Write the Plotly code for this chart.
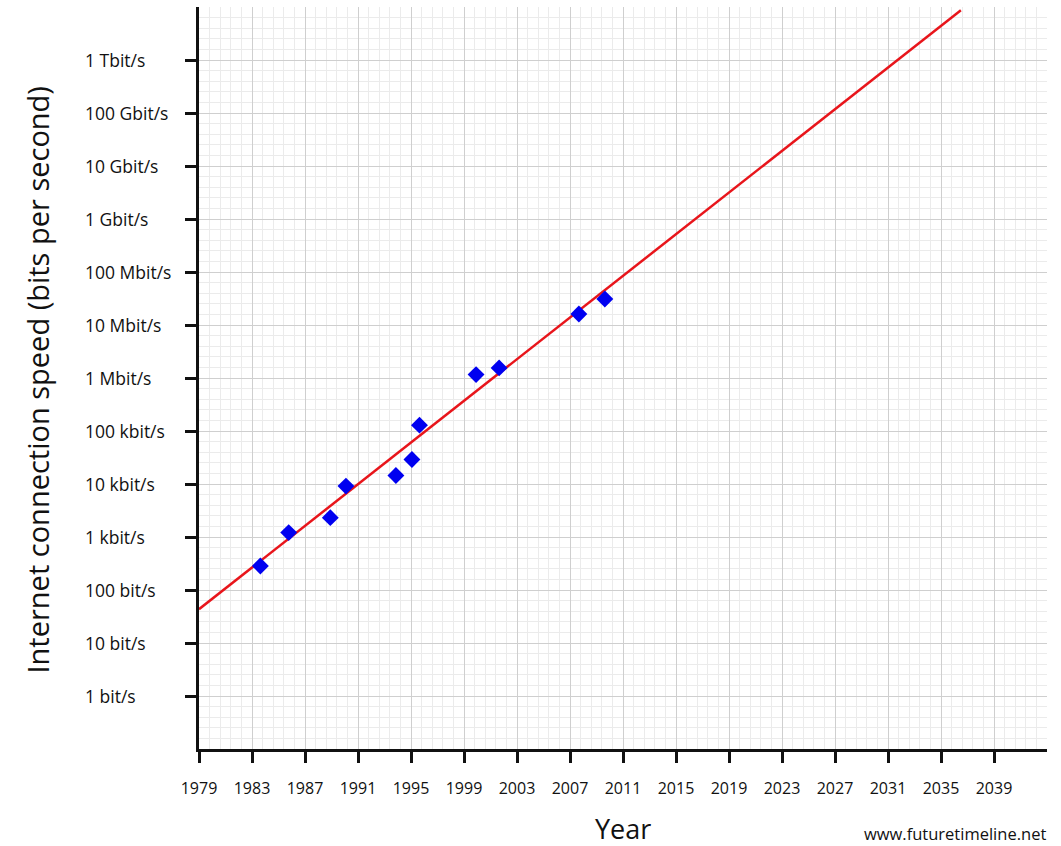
import math
import plotly.graph_objects as go

# Data points (year, bits per second)
years = [1983.63, 1985.77, 1988.91, 1990.09, 1993.86, 1995.07, 1995.64, 1999.91, 2001.65, 2007.67, 2009.63]
speeds = [284, 1210, 2320, 9120, 14500, 29000, 128800, 1160000, 1550000, 16100000, 30900000]

# Trend line endpoints
trend_years = [1979, 2036.5]
trend_speeds = [43.4, 8.7e12]

# Axis ticks
x_tick_years = [1979, 1983, 1987, 1991, 1995, 1999, 2003, 2007, 2011, 2015, 2019, 2023, 2027, 2031, 2035, 2039]
y_tick_values = [1, 10, 100, 1e3, 1e4, 1e5, 1e6, 1e7, 1e8, 1e9, 1e10, 1e11, 1e12]
y_tick_labels = ["1 bit/s", "10 bit/s", "100 bit/s", "1 kbit/s", "10 kbit/s", "100 kbit/s",
                 "1 Mbit/s", "10 Mbit/s", "100 Mbit/s", "1 Gbit/s", "10 Gbit/s", "100 Gbit/s", "1 Tbit/s"]

FONT = "Open Sans"
INK = "#111111"

fig = go.Figure()
fig.add_trace(go.Scatter(x=trend_years, y=trend_speeds, mode="lines",
                         line=dict(color="#e8151b", width=2.5), hoverinfo="skip"))
fig.add_trace(go.Scatter(x=years, y=speeds, mode="markers",
                         marker=dict(symbol="diamond", size=13, color="#0000f0", line=dict(width=0))))

W, H = 1061, 846
ml, mr, mt, mb = 198.5, 13.5, 7, 96.7
pw = W - ml - mr
ph = H - mt - mb

fig.update_layout(
    width=W, height=H,
    margin=dict(l=ml, r=mr, t=mt, b=mb),
    paper_bgcolor="white", plot_bgcolor="white",
    showlegend=False,
    font=dict(family=FONT, color=INK),
    xaxis=dict(
        range=[1979, 2043], tickvals=x_tick_years, ticktext=[str(y) for y in x_tick_years],
        ticks="outside", ticklen=11, tickwidth=2.5, tickcolor=INK,
        showline=True, linewidth=3, linecolor=INK,
        showgrid=True, gridcolor="#cfcfcf", gridwidth=1,
        minor=dict(dtick=0.8, tick0=1979, showgrid=True, gridcolor="#ebebeb", gridwidth=1, ticks=""),
        tickfont=dict(size=16, family=FONT, color=INK),
        ticklabelstandoff=12,
        zeroline=False, fixedrange=True,
    ),
    yaxis=dict(
        type="log", range=[-1, 13], tickvals=y_tick_values, showticklabels=False,
        ticks="outside", ticklen=11, tickwidth=2.5, tickcolor=INK,
        showline=True, linewidth=3, linecolor=INK,
        showgrid=True, gridcolor="#cfcfcf", gridwidth=1,
        minor=dict(dtick=0.2, tick0=0, showgrid=True, gridcolor="#ebebeb", gridwidth=1, ticks=""),
        zeroline=False, fixedrange=True,
    ),
)

annotations = []
for v, lab in zip(y_tick_values, y_tick_labels):
    annotations.append(dict(
        x=(82 - ml) / pw, xref="paper", xanchor="left",
        y=math.log10(v), yref="y", yanchor="middle",
        text=lab, showarrow=False, font=dict(size=17.5, family=FONT, color=INK),
    ))

annotations.append(dict(
    x=(37 - ml) / pw, xref="paper", xanchor="center",
    y=(H - mb - 380) / ph, yref="paper", yanchor="middle",
    text="Internet connection speed (bits per second)", textangle=-90, showarrow=False,
    font=dict(size=29, family=FONT, color=INK),
))
annotations.append(dict(
    x=(623 - ml) / pw, xref="paper", xanchor="center",
    y=-(829 - (H - mb)) / ph, yref="paper", yanchor="middle",
    text="Year", showarrow=False, font=dict(size=27, family=FONT, color=INK),
))
annotations.append(dict(
    x=(1047 - ml) / pw, xref="paper", xanchor="right",
    y=-(834 - (H - mb)) / ph, yref="paper", yanchor="middle",
    text="www.futuretimeline.net", showarrow=False, font=dict(size=16.5, family=FONT, color=INK),
    borderpad=0,
))
fig.update_layout(annotations=annotations)

fig.write_html("out.html", config={"displayModeBar": False},
               post_script="document.body.style.margin='0';")
